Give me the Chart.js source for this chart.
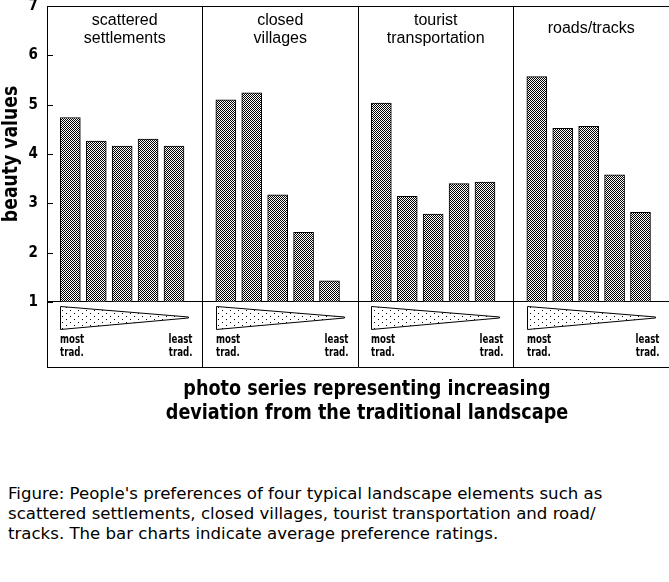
<!DOCTYPE html>
<html>
<head>
<meta charset="utf-8">
<script src="https://cdn.jsdelivr.net/npm/chart.js@4.4.0/dist/chart.umd.min.js"></script>
<style>
  body { margin: 0; background: #fff; }
  #wrap { position: relative; width: 669px; height: 430px; }
  #caption { position: absolute; left: 8px; top: 484px; font: 16.6px 'DejaVu Sans', sans-serif; line-height: 20px; color: #000; white-space: nowrap; }
</style>
</head>
<body>
<div id="wrap"><canvas id="myChart"></canvas></div>
<div id="caption">Figure: People's preferences of four typical landscape elements such as<br>scattered settlements, closed villages, tourist transportation and road/<br>tracks. The bar charts indicate average preference ratings.</div>
<script>
var panelTitles = [['scattered', 'settlements'], ['closed', 'villages'], ['tourist', 'transportation'], ['roads/tracks']]
var scatteredSettlements = [4.74, 4.26, 4.16, 4.30, 4.16]
var closedVillages = [5.10, 5.24, 3.17, 2.41, 1.43]
var touristTransport = [5.03, 3.14, 2.78, 3.40, 3.43]
var roadsTracks = [5.57, 4.52, 4.56, 3.58, 2.82]
var yTicks = [1, 2, 3, 4, 5, 6, 7]
var mostLabel = ['most', 'trad.']
var leastLabel = ['least', 'trad.']
var yTitle = 'beauty values'
var xTitle = ['photo series representing increasing', 'deviation from the traditional landscape']

var narrowBold = "'Liberation Sans Narrow', 'DejaVu Sans Condensed', sans-serif"

// 1px checker for the bars
function checker() {
    var c = document.createElement('canvas')
    c.width = 2; c.height = 2
    var g = c.getContext('2d')
    g.fillStyle = '#fff'; g.fillRect(0, 0, 2, 2)
    g.fillStyle = '#000'; g.fillRect(0, 0, 1, 1); g.fillRect(1, 1, 1, 1)
    return g.createPattern(c, 'repeat')
}
// sparse dots for the wedges
function dots() {
    var c = document.createElement('canvas')
    c.width = 8; c.height = 6
    var g = c.getContext('2d')
    g.fillStyle = '#fff'; g.fillRect(0, 0, 8, 6)
    g.fillStyle = '#000'; g.fillRect(2, 1, 1, 1); g.fillRect(6, 4, 1, 1)
    return g.createPattern(c, 'repeat')
}

var series = [scatteredSettlements, closedVillages, touristTransport, roadsTracks]
var barData = []
series.forEach((vals, p) => {
    vals.forEach((v, i) => barData.push({x: p * 6 + 0.9 + i, y: v}))
})

// squeezed text, the original uses a narrow heavy face
function narrowText(ctx, s, x, y, sx, align, rot) {
    ctx.save()
    ctx.translate(x, y)
    if (rot) ctx.rotate(rot)
    ctx.scale(sx, 1)
    ctx.textAlign = align
    ctx.fillText(s, 0, 0)
    ctx.restore()
}

var decor = {
    id: 'decor',
    afterDatasetsDraw(chart) {
        const ctx = chart.ctx, xs = chart.scales.x, ys = chart.scales.y
        const area = chart.chartArea
        ctx.save()
        // small inside ticks on the value axis
        ctx.strokeStyle = '#000'; ctx.lineWidth = 1
        yTicks.forEach(v => {
            const y = Math.round(ys.getPixelForValue(v)) + 0.5
            ctx.beginPath(); ctx.moveTo(area.left, y); ctx.lineTo(area.left + 6, y); ctx.stroke()
        })
        const base = ys.getPixelForValue(1)
        const pat = dots()
        ctx.textBaseline = 'middle'
        panelTitles.forEach((t, p) => {
            // panel heading
            ctx.fillStyle = '#000'
            ctx.font = "16px 'Liberation Sans', Arial, sans-serif"
            ctx.textAlign = 'center'
            const cx = xs.getPixelForValue(p * 6 + 3)
            if (t.length === 1) ctx.fillText(t[0], cx, 29)
            else t.forEach((s, k) => ctx.fillText(s, cx, 21 + k * 18))
            // wedge from most to least traditional
            const x0 = Math.round(xs.getPixelForValue(p * 6 + 0.9 - 0.39)) + 0.5
            const x1 = Math.round(xs.getPixelForValue(p * 6 + 4.9 + 0.55)) + 0.5
            ctx.beginPath()
            ctx.moveTo(x0, base + 4.5)
            ctx.lineTo(x1, base + 15)
            ctx.lineTo(x1, base + 16)
            ctx.lineTo(x0, base + 27.5)
            ctx.closePath()
            ctx.fillStyle = pat; ctx.fill()
            ctx.strokeStyle = '#000'; ctx.stroke()
            ctx.fillStyle = '#000'
            ctx.font = 'bold 12px ' + narrowBold
            mostLabel.forEach((s, k) => narrowText(ctx, s, x0 - 0.5, base + 38 + k * 12.5, 0.8, 'left'))
            leastLabel.forEach((s, k) => narrowText(ctx, s, x1 + 4, base + 38 + k * 12.5, 0.8, 'right'))
        })
        // axis titles
        ctx.fillStyle = '#000'
        ctx.font = 'bold 22px ' + narrowBold
        narrowText(ctx, yTitle, 11, (area.top + base) / 2, 0.87, 'center', -Math.PI / 2)
        xTitle.forEach((s, k) => narrowText(ctx, s, (area.left + area.right) / 2 + 9, 389 + k * 24, 0.89, 'center'))
        ctx.restore()
    }
}

Chart.defaults.color = '#000'
const ctx = document.getElementById('myChart')
new Chart(ctx, {
    type: 'bar',
    data: {
        datasets: [{
            label: 'beauty values',
            data: barData,
            base: 1,
            backgroundColor: checker(),
            borderColor: '#000',
            borderWidth: 1,
            borderSkipped: 'start',
            barThickness: 20
        }]
    },
    options: {
        responsive: true,
        maintainAspectRatio: false,
        animation: false,
        layout: { padding: { top: 6, right: 0, left: 0, bottom: 0 } },
        plugins: { legend: { display: false }, tooltip: { enabled: false } },
        scales: {
            x: {
                type: 'linear',
                min: 0,
                max: 24,
                offset: false,
                afterBuildTicks: s => { s.ticks = [0, 6, 12, 18, 24].map(v => ({value: v})) },
                afterFit: s => { s.height = 63 },
                ticks: { display: false },
                grid: {
                    offset: false,
                    drawTicks: false,
                    color: c => (c.tick && c.tick.value > 0 && c.tick.value < 24) ? '#000' : 'rgba(0,0,0,0)',
                    lineWidth: 1
                },
                border: { display: true, color: '#000', width: 1 }
            },
            y: {
                min: 1 - 65 / 49.33,
                max: 7,
                afterBuildTicks: s => { s.ticks = yTicks.map(v => ({value: v})) },
                afterFit: s => { s.width = 47; s.paddingTop = 0; s.paddingBottom = 0 },
                ticks: {
                    padding: 9,
                    font: { family: narrowBold, size: 15, weight: 'bold' }
                },
                grid: {
                    drawTicks: false,
                    color: c => (c.tick && (c.tick.value === 1 || c.tick.value === 7)) ? '#000' : 'rgba(0,0,0,0)',
                    lineWidth: 1
                },
                border: { display: true, color: '#000', width: 1 }
            }
        }
    },
    plugins: [decor]
})
</script>
</body>
</html>
